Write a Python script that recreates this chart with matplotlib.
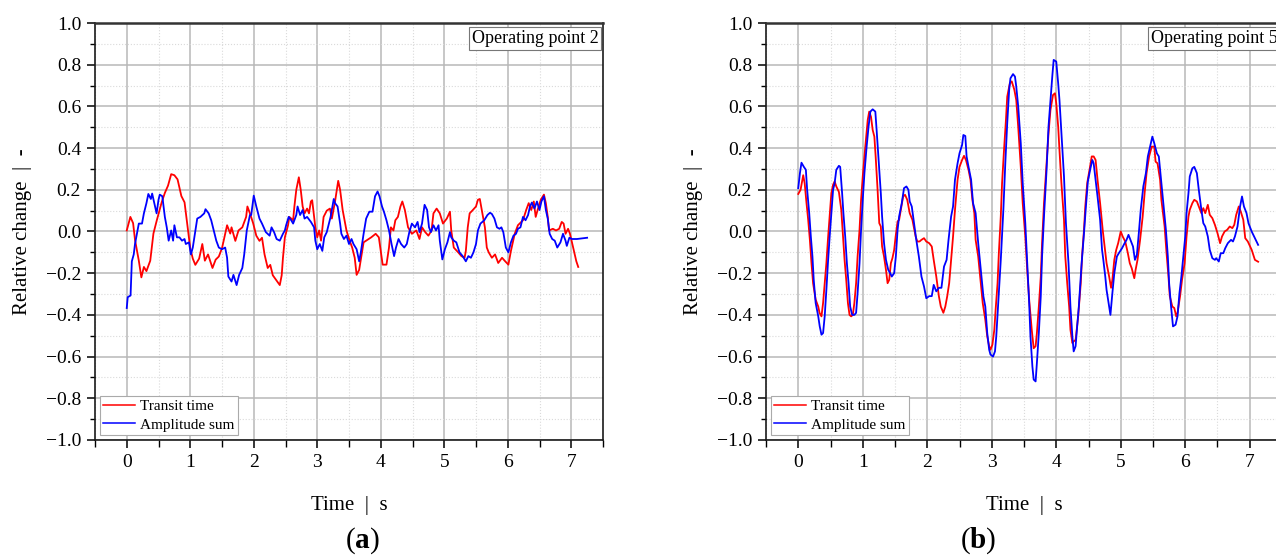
import numpy as np
import matplotlib
matplotlib.use("Agg")
import matplotlib.pyplot as plt
from matplotlib.ticker import MultipleLocator, FuncFormatter

plt.rcParams['font.family'] = ['Liberation Serif', 'DejaVu Serif']
plt.rcParams['mathtext.fontset'] = 'custom'
plt.rcParams['mathtext.rm'] = 'Liberation Serif'
plt.rcParams['mathtext.bf'] = 'Liberation Serif:bold'

# -------------------------------
# data: (time s, relative change)
# -------------------------------
a_transit = [
    (0, 0.005), (0.057, 0.07), (0.1, 0.04), (0.13, -0.04), (0.19, -0.14), (0.23, -0.22),
    (0.27, -0.17), (0.31, -0.19), (0.37, -0.14), (0.42, -0.01), (0.47, 0.05), (0.55, 0.14),
    (0.6, 0.185), (0.65, 0.22), (0.7, 0.275), (0.75, 0.27), (0.8, 0.25), (0.86, 0.17),
    (0.91, 0.14), (0.96, 0.02), (1.0, -0.08), (1.04, -0.13), (1.08, -0.16), (1.14, -0.13),
    (1.19, -0.06), (1.23, -0.14), (1.28, -0.11), (1.35, -0.175), (1.40, -0.135), (1.45, -0.12),
    (1.5, -0.08), (1.55, -0.01), (1.58, 0.03), (1.63, -0.01), (1.65, 0.02), (1.71, -0.045),
    (1.76, 0.005), (1.82, 0.02), (1.85, 0.045), (1.88, 0.07), (1.90, 0.12), (1.94, 0.087),
    (1.99, 0.04), (2.04, -0.02), (2.09, -0.045), (2.13, -0.03), (2.17, -0.11), (2.22, -0.175),
    (2.26, -0.16), (2.30, -0.21), (2.37, -0.24), (2.41, -0.257), (2.44, -0.21), (2.46, -0.126),
    (2.49, -0.028), (2.54, 0.03), (2.56, 0.07), (2.62, 0.054), (2.64, 0.12), (2.67, 0.2),
    (2.71, 0.26), (2.74, 0.2), (2.77, 0.12), (2.8, 0.087), (2.84, 0.11), (2.87, 0.087),
    (2.9, 0.144), (2.92, 0.15), (2.97, 0.02), (3.0, -0.028), (3.03, 0.005), (3.06, -0.044),
    (3.1, 0.07), (3.15, 0.10), (3.2, 0.11), (3.23, 0.062), (3.28, 0.144), (3.33, 0.243),
    (3.36, 0.2), (3.4, 0.103), (3.44, 0.038), (3.46, 0.005), (3.51, -0.044), (3.55, -0.077),
    (3.59, -0.126), (3.62, -0.208), (3.66, -0.184), (3.69, -0.126), (3.73, -0.052), (3.77, -0.044),
    (3.85, -0.028), (3.92, -0.011), (3.97, -0.028), (4.0, -0.093), (4.03, -0.159), (4.09, -0.159),
    (4.13, -0.077), (4.16, 0.02), (4.2, 0.005), (4.23, 0.054), (4.27, 0.07), (4.31, 0.12),
    (4.34, 0.144), (4.38, 0.103), (4.43, 0.02), (4.49, -0.011), (4.56, 0.005), (4.61, -0.036),
    (4.65, 0.02), (4.7, -0.003), (4.75, -0.02), (4.8, 0.005), (4.83, 0.087), (4.88, 0.11),
    (4.93, 0.087), (4.98, 0.038), (5.04, 0.062), (5.09, 0.095), (5.11, 0.005), (5.15, -0.077),
    (5.22, -0.1), (5.27, -0.118), (5.32, -0.126), (5.34, -0.093), (5.37, 0.02), (5.4, 0.087),
    (5.45, 0.103), (5.5, 0.12), (5.53, 0.152), (5.56, 0.156), (5.6, 0.087), (5.64, 0.02),
    (5.67, -0.077), (5.7, -0.1), (5.75, -0.126), (5.8, -0.11), (5.85, -0.151), (5.91, -0.126),
    (5.96, -0.143), (6.01, -0.159), (6.05, -0.093), (6.11, -0.011), (6.16, 0.03), (6.24, 0.054),
    (6.29, 0.103), (6.33, 0.136), (6.37, 0.103), (6.41, 0.144), (6.44, 0.07), (6.47, 0.103),
    (6.52, 0.152), (6.57, 0.177), (6.6, 0.136), (6.63, 0.07), (6.65, 0.005), (6.71, 0.013),
    (6.76, 0.005), (6.81, 0.013), (6.85, 0.046), (6.88, 0.038), (6.91, -0.011), (6.95, 0.013),
    (6.98, -0.011), (7.03, -0.077), (7.08, -0.143), (7.11, -0.17),
]

a_amplitude = [
    (0, -0.367), (0.015, -0.315), (0.06, -0.307), (0.08, -0.143), (0.11, -0.11), (0.13, -0.06),
    (0.16, -0.011), (0.19, 0.038), (0.24, 0.038), (0.27, 0.087), (0.31, 0.136), (0.34, 0.18),
    (0.38, 0.156), (0.4, 0.182), (0.44, 0.128), (0.47, 0.087), (0.5, 0.152), (0.52, 0.177),
    (0.56, 0.169), (0.6, 0.07), (0.63, 0.02), (0.66, -0.044), (0.7, 0.005), (0.73, -0.044),
    (0.75, 0.03), (0.79, -0.028), (0.83, -0.028), (0.87, -0.044), (0.91, -0.036), (0.93, -0.06),
    (0.98, -0.052), (1.01, -0.11), (1.04, -0.077), (1.09, 0.02), (1.11, 0.062), (1.16, 0.07),
    (1.22, 0.087), (1.24, 0.107), (1.29, 0.087), (1.33, 0.054), (1.37, 0.005), (1.41, -0.044),
    (1.45, -0.077), (1.5, -0.085), (1.55, -0.077), (1.58, -0.126), (1.6, -0.216), (1.65, -0.24),
    (1.68, -0.208), (1.73, -0.257), (1.77, -0.208), (1.82, -0.175), (1.85, -0.11), (1.89, 0.005),
    (1.94, 0.079), (1.96, 0.079), (2.0, 0.172), (2.04, 0.12), (2.09, 0.062), (2.13, 0.038),
    (2.19, -0.003), (2.25, -0.02), (2.28, 0.02), (2.32, -0.003), (2.36, -0.036), (2.41, -0.044),
    (2.46, -0.011), (2.49, 0.005), (2.51, 0.03), (2.55, 0.07), (2.59, 0.054), (2.62, 0.038),
    (2.67, 0.079), (2.69, 0.12), (2.73, 0.079), (2.77, 0.103), (2.8, 0.062), (2.84, 0.07),
    (2.9, 0.046), (2.95, 0.02), (2.97, -0.044), (3.0, -0.085), (3.04, -0.06), (3.08, -0.093),
    (3.11, -0.028), (3.15, -0.003), (3.21, 0.07), (3.26, 0.156), (3.28, 0.136), (3.32, 0.12),
    (3.36, 0.038), (3.38, -0.011), (3.42, -0.036), (3.46, -0.02), (3.5, -0.06), (3.54, -0.036),
    (3.57, -0.06), (3.62, -0.085), (3.66, -0.143), (3.69, -0.093), (3.73, -0.011), (3.77, 0.062),
    (3.82, 0.095), (3.87, 0.095), (3.91, 0.169), (3.95, 0.192), (3.98, 0.169), (4.02, 0.12),
    (4.05, 0.095), (4.09, 0.054), (4.13, 0.005), (4.17, -0.06), (4.21, -0.118), (4.24, -0.077),
    (4.28, -0.036), (4.32, -0.06), (4.37, -0.077), (4.41, -0.06), (4.45, -0.003), (4.49, 0.038),
    (4.54, 0.02), (4.58, 0.046), (4.61, -0.003), (4.65, 0.038), (4.69, 0.128), (4.73, 0.103),
    (4.76, 0.02), (4.79, -0.003), (4.83, 0.03), (4.87, 0.005), (4.91, 0.03), (4.93, -0.044),
    (4.97, -0.134), (5.01, -0.085), (5.05, -0.052), (5.09, -0.003), (5.11, -0.028), (5.15, -0.044),
    (5.19, -0.052), (5.24, -0.1), (5.29, -0.118), (5.34, -0.143), (5.38, -0.118), (5.42, -0.126),
    (5.46, -0.1), (5.5, -0.06), (5.53, 0.005), (5.57, 0.038), (5.63, 0.054), (5.68, 0.079),
    (5.72, 0.09), (5.75, 0.084), (5.79, 0.062), (5.83, 0.02), (5.87, 0.013), (5.9, 0.02),
    (5.93, -0.003), (5.97, -0.077), (6.01, -0.1), (6.05, -0.052), (6.09, -0.02), (6.13, -0.011),
    (6.16, 0.013), (6.2, 0.02), (6.24, 0.07), (6.28, 0.054), (6.32, 0.079), (6.35, 0.12),
    (6.38, 0.139), (6.42, 0.11), (6.46, 0.144), (6.5, 0.103), (6.53, 0.144), (6.57, 0.169),
    (6.6, 0.103), (6.63, 0.062), (6.66, -0.011), (6.7, -0.036), (6.74, -0.044), (6.78, -0.077),
    (6.83, -0.052), (6.87, -0.011), (6.91, -0.044), (6.93, -0.069), (6.97, -0.03), (7.01, -0.036),
    (7.09, -0.036), (7.25, -0.03),
]

b_transit = [
    (0, 0.18), (0.036, 0.2), (0.077, 0.27), (0.1, 0.23), (0.128, 0.136), (0.154, 0.056),
    (0.18, -0.04), (0.205, -0.152), (0.23, -0.248), (0.27, -0.327), (0.31, -0.36), (0.33, -0.39),
    (0.36, -0.407), (0.385, -0.343), (0.41, -0.248), (0.436, -0.152), (0.46, -0.04), (0.487, 0.072),
    (0.513, 0.184), (0.54, 0.224), (0.564, 0.24), (0.59, 0.216), (0.63, 0.19), (0.667, 0.104),
    (0.69, -0.008), (0.718, -0.136), (0.744, -0.232), (0.77, -0.343), (0.795, -0.4), (0.82, -0.407),
    (0.846, -0.4), (0.87, -0.343), (0.897, -0.248), (0.92, -0.12), (0.95, 0.008), (0.974, 0.152),
    (1.0, 0.264), (1.026, 0.36), (1.05, 0.44), (1.077, 0.535), (1.1, 0.575), (1.128, 0.55),
    (1.154, 0.487), (1.18, 0.455), (1.2, 0.36), (1.23, 0.2), (1.256, 0.04), (1.28, 0.024),
    (1.3, -0.072), (1.33, -0.12), (1.36, -0.184), (1.385, -0.248), (1.41, -0.232), (1.436, -0.152),
    (1.46, -0.128), (1.487, -0.088), (1.51, -0.024), (1.54, 0.048), (1.564, 0.056), (1.59, 0.104),
    (1.626, 0.168), (1.656, 0.176), (1.69, 0.152), (1.728, 0.088), (1.77, 0.056), (1.795, 0.016),
    (1.82, -0.024), (1.846, -0.048), (1.88, -0.048), (1.91, -0.04), (1.95, -0.032), (1.985, -0.048),
    (2.03, -0.056), (2.07, -0.072), (2.1, -0.136), (2.14, -0.216), (2.18, -0.31), (2.21, -0.36),
    (2.25, -0.39), (2.28, -0.36), (2.31, -0.31), (2.34, -0.248), (2.37, -0.136), (2.4, -0.024),
    (2.43, 0.104), (2.47, 0.248), (2.5, 0.31), (2.54, 0.343), (2.57, 0.363), (2.6, 0.343),
    (2.64, 0.296), (2.67, 0.248), (2.7, 0.152), (2.73, 0.088), (2.75, -0.04), (2.79, -0.12),
    (2.83, -0.248), (2.86, -0.343), (2.9, -0.423), (2.93, -0.503), (2.96, -0.55), (2.98, -0.567),
    (3.01, -0.543), (3.04, -0.471), (3.06, -0.375), (3.09, -0.248), (3.11, -0.104), (3.14, 0.072),
    (3.16, 0.232), (3.19, 0.39), (3.22, 0.535), (3.24, 0.647), (3.28, 0.71), (3.31, 0.72),
    (3.35, 0.68), (3.38, 0.63), (3.41, 0.503), (3.45, 0.31), (3.48, 0.136), (3.52, -0.024),
    (3.55, -0.184), (3.58, -0.327), (3.62, -0.471), (3.65, -0.56), (3.68, -0.55), (3.7, -0.487),
    (3.73, -0.36), (3.76, -0.216), (3.78, -0.056), (3.81, 0.136), (3.85, 0.327), (3.88, 0.47),
    (3.91, 0.583), (3.95, 0.655), (3.98, 0.663), (4.0, 0.615), (4.03, 0.503), (4.05, 0.39),
    (4.08, 0.232), (4.12, 0.056), (4.14, -0.12), (4.17, -0.248), (4.2, -0.36), (4.22, -0.471),
    (4.25, -0.535), (4.27, -0.527), (4.3, -0.52), (4.34, -0.407), (4.38, -0.248), (4.4, -0.12),
    (4.43, 0.008), (4.45, 0.12), (4.48, 0.232), (4.52, 0.303), (4.55, 0.36), (4.58, 0.36),
    (4.61, 0.343), (4.64, 0.248), (4.68, 0.136), (4.72, 0.008), (4.75, -0.072), (4.78, -0.152),
    (4.82, -0.216), (4.85, -0.27), (4.87, -0.232), (4.9, -0.136), (4.93, -0.088), (4.96, -0.056),
    (5.0, 0.0), (5.03, -0.024), (5.07, -0.048), (5.11, -0.104), (5.14, -0.152), (5.17, -0.176),
    (5.21, -0.224), (5.23, -0.184), (5.26, -0.136), (5.3, -0.04), (5.34, 0.072), (5.37, 0.184),
    (5.4, 0.28), (5.44, 0.36), (5.48, 0.407), (5.52, 0.407), (5.54, 0.335), (5.57, 0.327),
    (5.61, 0.248), (5.63, 0.152), (5.68, 0.024), (5.71, -0.104), (5.74, -0.216), (5.76, -0.31),
    (5.8, -0.36), (5.83, -0.367), (5.86, -0.407), (5.88, -0.39), (5.92, -0.31), (5.95, -0.232),
    (5.99, -0.152), (6.02, -0.024), (6.05, 0.072), (6.07, 0.104), (6.11, 0.136), (6.14, 0.152),
    (6.18, 0.144), (6.21, 0.12), (6.25, 0.088), (6.28, 0.112), (6.31, 0.088), (6.35, 0.128),
    (6.38, 0.08), (6.42, 0.064), (6.46, 0.032), (6.5, -0.008), (6.54, -0.056), (6.57, -0.024),
    (6.61, 0.0), (6.65, 0.008), (6.69, 0.024), (6.73, 0.016), (6.76, 0.032), (6.79, 0.08),
    (6.83, 0.12), (6.86, 0.096), (6.9, 0.056), (6.93, -0.032), (6.97, -0.048), (7.03, -0.088),
    (7.08, -0.136), (7.13, -0.145),
]

b_amplitude = [
    (0, 0.208), (0.026, 0.28), (0.05, 0.33), (0.087, 0.31), (0.118, 0.296), (0.138, 0.2),
    (0.17, 0.088), (0.195, -0.024), (0.22, -0.12), (0.24, -0.232), (0.27, -0.343), (0.31, -0.407),
    (0.333, -0.455), (0.36, -0.495), (0.385, -0.487), (0.41, -0.407), (0.436, -0.28), (0.46, -0.152),
    (0.487, -0.024), (0.513, 0.088), (0.54, 0.2), (0.564, 0.232), (0.59, 0.296), (0.63, 0.315),
    (0.65, 0.31), (0.68, 0.184), (0.7, 0.088), (0.728, -0.024), (0.754, -0.152), (0.78, -0.248),
    (0.805, -0.36), (0.836, -0.4), (0.87, -0.4), (0.897, -0.39), (0.92, -0.296), (0.95, -0.152),
    (0.974, 0.008), (1.0, 0.152), (1.026, 0.28), (1.06, 0.407), (1.09, 0.503), (1.118, 0.575),
    (1.154, 0.586), (1.195, 0.575), (1.215, 0.487), (1.246, 0.343), (1.28, 0.184), (1.3, 0.072),
    (1.33, -0.056), (1.36, -0.136), (1.395, -0.184), (1.426, -0.2), (1.45, -0.216), (1.487, -0.2),
    (1.513, -0.12), (1.54, 0.008), (1.564, 0.072), (1.605, 0.136), (1.64, 0.208), (1.677, 0.216),
    (1.708, 0.2), (1.728, 0.144), (1.76, 0.12), (1.795, 0.04), (1.83, -0.04), (1.87, -0.12),
    (1.91, -0.216), (1.95, -0.264), (1.985, -0.32), (2.03, -0.31), (2.07, -0.31), (2.1, -0.256),
    (2.14, -0.287), (2.18, -0.27), (2.22, -0.27), (2.26, -0.168), (2.3, -0.136), (2.33, -0.04),
    (2.37, 0.072), (2.4, 0.12), (2.43, 0.248), (2.47, 0.327), (2.5, 0.375), (2.54, 0.415),
    (2.56, 0.463), (2.59, 0.458), (2.61, 0.36), (2.64, 0.31), (2.68, 0.248), (2.71, 0.136),
    (2.75, 0.088), (2.79, -0.056), (2.83, -0.184), (2.87, -0.31), (2.9, -0.36), (2.93, -0.487),
    (2.96, -0.567), (2.98, -0.59), (3.02, -0.6), (3.05, -0.575), (3.07, -0.503), (3.1, -0.343),
    (3.14, -0.136), (3.18, 0.104), (3.21, 0.327), (3.24, 0.52), (3.27, 0.68), (3.29, 0.735),
    (3.33, 0.755), (3.36, 0.743), (3.38, 0.695), (3.41, 0.6), (3.45, 0.423), (3.48, 0.232),
    (3.52, 0.04), (3.55, -0.152), (3.58, -0.343), (3.6, -0.503), (3.63, -0.647), (3.65, -0.71),
    (3.68, -0.719), (3.7, -0.63), (3.73, -0.487), (3.76, -0.31), (3.78, -0.12), (3.81, 0.072),
    (3.85, 0.296), (3.88, 0.503), (3.91, 0.63), (3.94, 0.75), (3.96, 0.823), (4.0, 0.815),
    (4.03, 0.71), (4.05, 0.63), (4.08, 0.47), (4.12, 0.264), (4.15, 0.04), (4.19, -0.152),
    (4.22, -0.36), (4.25, -0.503), (4.27, -0.575), (4.3, -0.55), (4.32, -0.471), (4.35, -0.36),
    (4.39, -0.168), (4.43, -0.008), (4.46, 0.12), (4.49, 0.24), (4.53, 0.303), (4.56, 0.343),
    (4.58, 0.327), (4.61, 0.248), (4.64, 0.168), (4.68, 0.056), (4.71, -0.088), (4.73, -0.136),
    (4.76, -0.216), (4.78, -0.28), (4.82, -0.36), (4.84, -0.4), (4.87, -0.296), (4.9, -0.2),
    (4.94, -0.12), (4.97, -0.104), (5.02, -0.08), (5.06, -0.056), (5.09, -0.04), (5.12, -0.016),
    (5.15, -0.04), (5.19, -0.072), (5.22, -0.136), (5.25, -0.112), (5.28, -0.008), (5.31, 0.104),
    (5.35, 0.216), (5.39, 0.28), (5.42, 0.36), (5.45, 0.4), (5.49, 0.455), (5.52, 0.423),
    (5.56, 0.375), (5.59, 0.36), (5.62, 0.264), (5.66, 0.136), (5.7, 0.008), (5.73, -0.12),
    (5.75, -0.248), (5.78, -0.36), (5.81, -0.455), (5.85, -0.447), (5.88, -0.407), (5.91, -0.296),
    (5.94, -0.216), (5.97, -0.12), (6.0, -0.024), (6.02, 0.088), (6.05, 0.184), (6.07, 0.264),
    (6.11, 0.303), (6.14, 0.31), (6.18, 0.28), (6.21, 0.2), (6.25, 0.104), (6.28, 0.04),
    (6.31, 0.024), (6.35, -0.024), (6.38, -0.088), (6.42, -0.128), (6.46, -0.136), (6.48, -0.128),
    (6.52, -0.144), (6.55, -0.104), (6.59, -0.104), (6.62, -0.08), (6.66, -0.056), (6.71, -0.04),
    (6.74, -0.048), (6.77, -0.024), (6.81, 0.024), (6.85, 0.12), (6.88, 0.168), (6.91, 0.12),
    (6.95, 0.088), (6.98, 0.04), (7.03, 0.0), (7.08, -0.032), (7.13, -0.064),
]

panel_letters = ["a", "b"]
operating_points = ["Operating point 2", "Operating point 5"]
series_labels = ["Transit time", "Amplitude sum"]


def minus_fmt(v, pos):
    # ticks use a real minus sign
    return f"{v:.1f}".replace("-", "\u2212")


# -------------------------------
# figure
# -------------------------------
fig = plt.figure(figsize=(12.76, 5.6), dpi=100)
ax_a = fig.add_axes([95 / 1276, 1 - 440 / 560, 508 / 1276, 417 / 560])
ax_b = fig.add_axes([766 / 1276, 1 - 440 / 560, 516 / 1276, 417 / 560])

panels = [(ax_a, a_transit, a_amplitude), (ax_b, b_transit, b_amplitude)]

for i, (ax, red, blue) in enumerate(panels):
    red = np.array(red)
    blue = np.array(blue)
    ax.plot(red[:, 0], red[:, 1], color="#ff0000", lw=1.3, label=series_labels[0], zorder=3)
    ax.plot(blue[:, 0], blue[:, 1], color="#0000ff", lw=1.3, label=series_labels[1], zorder=4)

    ax.set_xlim(-0.5, 7.5)
    ax.set_ylim(-1.0, 1.0)
    ax.xaxis.set_minor_locator(MultipleLocator(0.5))
    ax.yaxis.set_major_locator(MultipleLocator(0.2))
    ax.yaxis.set_minor_locator(MultipleLocator(0.1))
    ax.set_xticks(np.arange(0, 8, 1))
    ax.yaxis.set_major_formatter(FuncFormatter(minus_fmt))

    ax.grid(which="major", color="#b8b8b8", lw=1.1, ls="-", zorder=0)
    ax.grid(which="minor", color="#dadada", lw=0.8, ls=":", zorder=0)
    ax.set_axisbelow(True)

    ax.tick_params(which="major", direction="out", length=6, width=1.1, labelsize=14,
                   top=False, right=False, pad=4)
    ax.tick_params(axis="x", which="minor", direction="out", length=5, width=1.0,
                   top=False)
    ax.tick_params(axis="y", which="minor", direction="out", length=3.5, width=1.0,
                   right=False)
    for side in ["left", "bottom", "right"]:
        ax.spines[side].set_linewidth(1.2)
        ax.spines[side].set_color("#1a1a1a")
    ax.spines["top"].set_linewidth(1.8)
    ax.spines["top"].set_color("#333333")

    ax.set_xlabel("Time  |  s", fontsize=15, labelpad=18)
    ax.set_ylabel("Relative change  |  -", fontsize=15, labelpad=10)

    ax.text(0.991, 0.983, operating_points[i], transform=ax.transAxes, ha="right",
            va="top", fontsize=13,
            bbox=dict(boxstyle="square,pad=0.15", fc="white", ec="#777777", lw=0.8),
            zorder=6)

    leg = ax.legend(loc="lower left", bbox_to_anchor=(0.0, 0.0), fontsize=11,
                    handlelength=2.1, handletextpad=0.3, borderpad=0.25,
                    labelspacing=0.3, fancybox=False, framealpha=1, borderaxespad=0.3)
    leg.get_frame().set_edgecolor("#aaaaaa")
    leg.get_frame().set_linewidth(0.8)
    for ln in leg.get_lines():
        ln.set_linewidth(1.1)

fig.text(362 / 1276, 1 - 541 / 560, "(" + r"$\mathbf{a}$" + ")", ha="center",
         va="center", fontsize=21)
fig.text(978 / 1276, 1 - 541 / 560, "(" + r"$\mathbf{b}$" + ")", ha="center",
         va="center", fontsize=21)

fig.savefig("out.png", dpi=100)
